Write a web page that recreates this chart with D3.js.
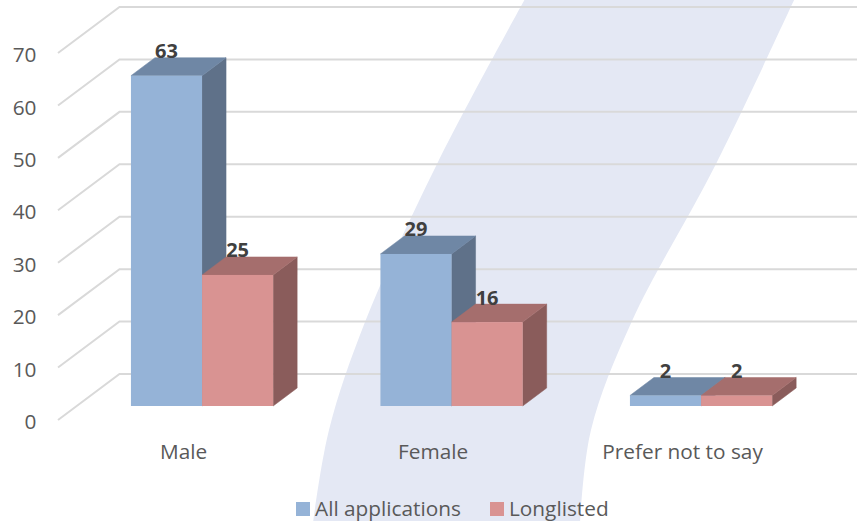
<!DOCTYPE html>
<html><head><meta charset="utf-8">
<script src="https://cdn.jsdelivr.net/npm/d3@7"></script>
<style>
html,body{margin:0;padding:0;background:#fff}
svg{display:block}
text{font-family:"Open Sans",sans-serif}
</style></head><body><svg id="c" width="857" height="521"></svg>
<script>
const categories = ["Male","Female","Prefer not to say"];
const seriesNames = ["All applications","Longlisted"];
const allApplications = [63,29,2];
const longlisted = [25,16,2];
const yTicks = [0,10,20,30,40,50,60,70];
const bandLeft = [[525.5,-2],[437,164],[365,322],[329,430],[313,523]];
const bandRight = [[795,-2],[716,164],[632,321],[591,430],[580,523]];

const palette = [
  {front:"#95b3d7",top:"#6f87a5",side:"#5f7189"},
  {front:"#d99392",top:"#a56e6d",side:"#8a5c5b"}
];
const depthX=24, depthY=18;
const wallX=119.5, floorDX=61.5, floorDY=46;
const labelSize=20.8;

const svg=d3.select("#c");
const yBack=d3.scaleLinear().domain([0,70]).range([374,7]);
const yFront=d3.scaleLinear().domain([0,70]).range([406,39]);
const yAxisScale=d3.scaleLinear().domain([0,70]).range([422,55]);
const x0=d3.scaleBand().domain(categories).range([77.3,825.8]).paddingInner(0.43).paddingOuter(0.215);
const x1=d3.scaleBand().domain(seriesNames).range([0,x0.bandwidth()]);

// background swoosh
const line=d3.line().curve(d3.curveCatmullRom.alpha(0.5));
svg.append("path")
  .attr("d",line(bandLeft)+"L"+line(bandRight.slice().reverse()).slice(1)+"Z")
  .attr("fill","#e4e8f4");

// gridlines: back wall and side wall
const grid=svg.append("g").attr("fill","none").attr("stroke","#d9d9d9").attr("stroke-width",2);
grid.selectAll("path").data(yTicks).join("path")
  .attr("d",v=>`M${wallX-floorDX},${yBack(v)+floorDY}L${wallX},${yBack(v)}L857,${yBack(v)}`);

// value axis
const ya=svg.append("g").attr("transform","translate(36.5,0)").call(d3.axisLeft(yAxisScale).tickValues(yTicks).tickSize(0).tickPadding(0));
ya.select(".domain").remove();
ya.selectAll("text").attr("font-size",labelSize).attr("font-family",'"Open Sans",sans-serif').attr("fill","#595959");

// category axis
const xa=svg.append("g").attr("transform","translate(-18.5,444.2)").call(d3.axisBottom(x0).tickSize(0).tickPadding(0));
xa.select(".domain").remove();
xa.selectAll("text").attr("font-size",labelSize).attr("font-family",'"Open Sans",sans-serif').attr("fill","#595959");

// bars
const rows=[];
categories.forEach((c,i)=>{
  seriesNames.forEach((s,j)=>{
    rows.push({c,s,j,v:(j===0?allApplications:longlisted)[i]});
  });
});
const bars=svg.append("g").selectAll("g").data(rows).join("g");
const L=d=>x0(d.c)+x1(d.s), R=d=>L(d)+x1.bandwidth(), T=d=>yFront(d.v), B=()=>yFront(0);
bars.append("path").attr("d",d=>`M${R(d)},${T(d)}L${R(d)+depthX},${T(d)-depthY}L${R(d)+depthX},${B()-depthY}L${R(d)},${B()}Z`)
  .attr("fill",d=>palette[d.j].side).attr("stroke",d=>palette[d.j].side).attr("stroke-width",.5);
bars.append("path").attr("d",d=>`M${L(d)},${T(d)}L${L(d)+depthX},${T(d)-depthY}L${R(d)+depthX},${T(d)-depthY}L${R(d)},${T(d)}Z`)
  .attr("fill",d=>palette[d.j].top).attr("stroke",d=>palette[d.j].top).attr("stroke-width",.5);
bars.append("rect").attr("x",L).attr("y",T).attr("width",x1.bandwidth()).attr("height",d=>B()-T(d))
  .attr("fill",d=>palette[d.j].front);

// value labels
svg.append("g").selectAll("text").data(rows).join("text")
  .attr("x",d=>L(d)+x1.bandwidth()/2).attr("y",d=>T(d)-17.5)
  .attr("text-anchor","middle").attr("font-size",20).attr("font-weight",700).attr("fill","#404040")
  .text(d=>d.v);

// legend
const legendX=[296,490];
const lg=svg.append("g").selectAll("g").data(seriesNames).join("g").attr("transform",(d,i)=>`translate(${legendX[i]},0)`);
lg.append("rect").attr("y",502).attr("width",14).attr("height",14).attr("fill",(d,i)=>palette[i].front);
lg.append("text").attr("x",19).attr("y",516).attr("font-size",labelSize).attr("fill","#595959").text(d=>d);
</script></body></html>
